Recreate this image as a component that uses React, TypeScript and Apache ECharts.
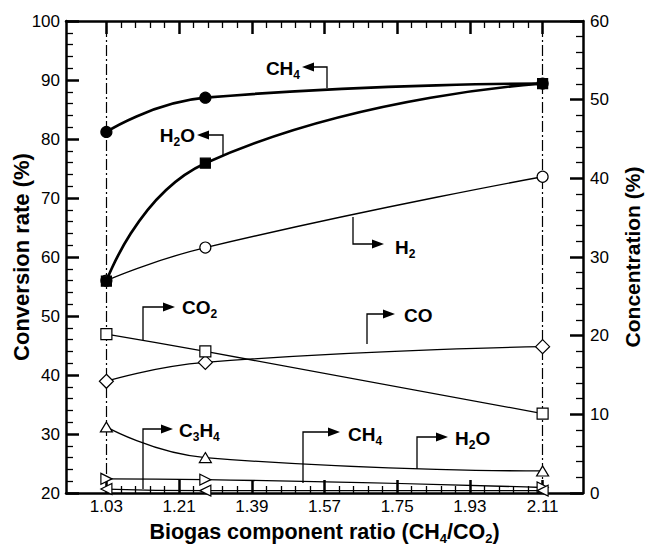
import React, { useEffect, useRef } from "react";
import * as echarts from "echarts";

// ---- data ----
const ratios = [1.03, 1.275, 2.11];
// conversion rate (%) - left axis
const convCH4 = [81.2, 87.0, 89.4];
const convH2O = [55.9, 75.9, 89.4];
// concentration (%) - right axis
const concH2 = [27.0, 31.2, 40.2];
const concCO2 = [20.2, 18.0, 10.1];
const concCO = [14.2, 16.6, 18.6];
const concH2O = [8.4, 4.5, 2.8];
const concCH4 = [1.8, 1.7, 0.7];
const concC3H4 = [0.5, 0.3, 0.3];
// tick labels
const xTicks = [1.03, 1.21, 1.39, 1.57, 1.75, 1.93, 2.11];
const refLines = [1.03, 2.11];

const FONT = "'Liberation Sans', Arial, Helvetica, sans-serif";

// annotation callout layout (pixels)
const calloutLayout = [
  { x: 327, y0: 88, y1: 67, dir: -1, tip: 302, text: "{m|CH}{s|4}", lx: 300, ly: 68 },
  { x: 223, y0: 155, y1: 135, dir: -1, tip: 197, text: "{m|H}{s|2}{m|O}", lx: 195, ly: 135 },
  { x: 353, y0: 217, y1: 244, dir: 1, tip: 384, text: "{m|H}{s|2}", lx: 395, ly: 247 },
  { x: 143, y0: 340, y1: 307, dir: 1, tip: 175, text: "{m|CO}{s|2}", lx: 182, ly: 307 },
  { x: 367, y0: 344, y1: 314, dir: 1, tip: 395, text: "{m|CO}", lx: 404, ly: 315 },
  { x: 143, y0: 489, y1: 429, dir: 1, tip: 173, text: "{m|C}{s|3}{m|H}{s|4}", lx: 179, ly: 430 },
  { x: 303, y0: 483, y1: 432, dir: 1, tip: 340, text: "{m|CH}{s|4}", lx: 348, ly: 434 },
  { x: 417, y0: 469, y1: 437, dir: 1, tip: 448, text: "{m|H}{s|2}{m|O}", lx: 455, ly: 438 },
];

const richLabel = {
  m: { fontSize: 19, fontWeight: "bold", fontFamily: FONT, fill: "#000" },
  s: { fontSize: 12, fontWeight: "bold", fontFamily: FONT, fill: "#000", padding: [14, 0, 0, 0] },
};

function minorValues(majors: number[]): number[] {
  const out: number[] = [];
  for (let i = 0; i < majors.length - 1; i++) {
    const a = majors[i];
    const b = majors[i + 1];
    for (let k = 1; k < 5; k++) out.push(+(a + ((b - a) * k) / 5).toFixed(4));
  }
  return out;
}

function series(
  name: string,
  values: number[],
  yAxisIndex: number,
  symbol: string,
  size: number | number[],
  filled: boolean,
  width: number,
  rotate = 0,
  z = 2
) {
  return {
    type: "line",
    name,
    xAxisIndex: 0,
    yAxisIndex,
    data: ratios.map((x, i) => [x, values[i]]),
    smooth: 0.5,
    symbol,
    symbolSize: size,
    symbolRotate: rotate,
    showAllSymbol: true,
    z,
    lineStyle: { color: "#000", width },
    itemStyle: { color: filled ? "#000" : "#fff", borderColor: "#000", borderWidth: 1.2 },
    emphasis: { disabled: true },
  };
}

export default function App() {
  const ref = useRef<HTMLDivElement>(null);
  useEffect(() => {
    if (!ref.current) return;
    const chart = echarts.init(ref.current, null, { renderer: "svg" });
    const xMinor = minorValues(xTicks);
    const xCommon = { type: "value", min: 0.93, max: 2.21, splitLine: { show: false } };
    const majorTick = { show: true, inside: true, length: 13, lineStyle: { color: "#000", width: 2.5 } };
    const minorTick = { show: true, inside: true, length: 7, lineStyle: { color: "#000", width: 1.3 } };
    const axisLine = { show: true, onZero: false, lineStyle: { color: "#000", width: 2.5 } };
    const tickLabel = { fontSize: 17, color: "#000", fontFamily: FONT };
    const nameStyle = { fontSize: 21, fontWeight: "bold", color: "#000", fontFamily: FONT };

    const graphic: any[] = [];
    calloutLayout.forEach((c) => {
      const base = c.tip - c.dir * 12;
      graphic.push({
        type: "polyline",
        z: 100,
        shape: { points: [[c.x, c.y0], [c.x, c.y1], [base, c.y1]] },
        style: { stroke: "#000", lineWidth: 1.3, fill: null },
      });
      graphic.push({
        type: "polygon",
        z: 100,
        shape: { points: [[c.tip, c.y1], [base, c.y1 - 4.5], [base, c.y1 + 4.5]] },
        style: { fill: "#000", stroke: null },
      });
      graphic.push({
        type: "text",
        z: 100,
        x: c.lx,
        y: c.ly,
        style: {
          text: c.text,
          rich: richLabel,
          textAlign: c.dir < 0 ? "right" : "left",
          textVerticalAlign: "middle",
          fontSize: 19,
          fontWeight: "bold",
          fontFamily: FONT,
          fill: "#000",
        },
      });
    });

    const s0: any = series("CH4 (conc.)", concCH4, 1, "triangle", [11, 11], false, 1.3, -90);
    s0.markLine = {
      silent: true,
      symbol: "none",
      label: { show: false },
      lineStyle: { color: "#000", width: 1.2, type: [11, 3, 2, 3] },
      data: refLines.map((v) => ({ xAxis: v })),
      z: 1,
    };

    chart.setOption({
      animation: false,
      grid: {
        left: 66,
        right: 62,
        top: 21,
        bottom: 52,
        containLabel: false,
        outerBoundsMode: "none",
      },
      xAxis: [
        {
          ...xCommon,
          position: "bottom",
          axisLine,
          axisTick: { ...majorTick, customValues: xTicks },
          axisLabel: {
            ...tickLabel,
            customValues: xTicks,
            margin: 5,
            formatter: (v: number) => v.toFixed(2),
          },
          name: "{m|Biogas component ratio (CH}{s|4}{m|/CO}{s|2}{m|)}",
          nameLocation: "middle",
          nameGap: 25,
          nameMoveOverlap: false,
          nameTextStyle: {
            ...nameStyle,
            rich: {
              m: { ...nameStyle, fontSize: 21.5 },
              s: { fontSize: 13, fontWeight: "bold", color: "#000", fontFamily: FONT, padding: [14, 0, 0, 0] },
            },
          },
        },
        {
          ...xCommon,
          position: "bottom",
          axisLine: { show: false },
          axisTick: { ...minorTick, customValues: xMinor },
          axisLabel: { show: false },
        },
        {
          ...xCommon,
          position: "top",
          axisLine,
          axisTick: { ...majorTick, customValues: xTicks },
          axisLabel: { show: false },
        },
        {
          ...xCommon,
          position: "top",
          axisLine: { show: false },
          axisTick: { ...minorTick, customValues: xMinor },
          axisLabel: { show: false },
        },
      ],
      yAxis: [
        {
          type: "value",
          position: "left",
          min: 20,
          max: 100,
          interval: 10,
          axisLine,
          axisTick: majorTick,
          minorTick: { show: true, splitNumber: 5, length: 7, lineStyle: { color: "#000", width: 1.3 } },
          splitLine: { show: false },
          minorSplitLine: { show: false },
          axisLabel: { ...tickLabel, margin: 6 },
          name: "Conversion rate (%)",
          nameLocation: "middle",
          nameGap: 34,
          nameMoveOverlap: false,
          nameTextStyle: { ...nameStyle, fontSize: 22 },
        },
        {
          type: "value",
          position: "right",
          min: 0,
          max: 60,
          interval: 10,
          axisLine,
          axisTick: majorTick,
          minorTick: { show: true, splitNumber: 5, length: 7, lineStyle: { color: "#000", width: 1.3 } },
          splitLine: { show: false },
          minorSplitLine: { show: false },
          axisLabel: { ...tickLabel, margin: 7 },
          name: "Concentration (%)",
          nameLocation: "middle",
          nameGap: 39,
          nameMoveOverlap: false,
          nameTextStyle: nameStyle,
        },
      ],
      series: [
        s0,
        series("C3H4 (conc.)", concC3H4, 1, "triangle", [11, 11], false, 1.3, 90),
        series("H2O (conc.)", concH2O, 1, "triangle", [12, 10], false, 1.3),
        series("CO (conc.)", concCO, 1, "diamond", 14, false, 1.3),
        series("CO2 (conc.)", concCO2, 1, "rect", 11, false, 1.3),
        series("H2 (conc.)", concH2, 1, "circle", 11, false, 1.3),
        series("CH4 (conv.)", convCH4, 0, "circle", 11, true, 2.7, 0, 3),
        series("H2O (conv.)", convH2O, 0, "rect", 10, true, 2.7, 0, 4),
      ],
      graphic,
    });
    return () => chart.dispose();
  }, []);
  return (
    <div
      ref={ref}
      style={{ position: "absolute", left: 0, top: 0, width: 645, height: 545, background: "#fff" }}
    />
  );
}
